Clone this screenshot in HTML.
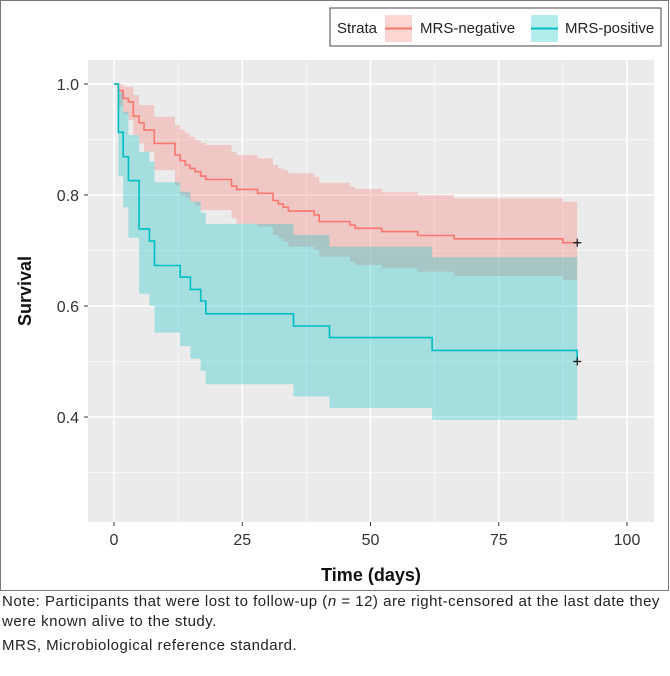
<!DOCTYPE html>
<html><head><meta charset="utf-8">
<style>
body{margin:0;background:#fff;width:670px;height:676px;overflow:hidden;font-family:"Liberation Sans",sans-serif}
#note{position:absolute;left:2px;top:592px;font-size:15px;letter-spacing:0.5px;color:#222;line-height:20px;white-space:nowrap}
</style></head>
<body>
<svg id="chart" width="670" height="592" style="position:absolute;left:0;top:0" font-family="Liberation Sans, sans-serif">
<rect x="0.5" y="0.5" width="668" height="590" fill="#fff" stroke="#777"/>
<rect x="88" y="60" width="566" height="462" fill="#ebebeb"/>
<g id="grid"></g><g id="bands"></g><g id="lines"></g><g id="axes"></g>
<g>
<rect x="330" y="8" width="331" height="38" fill="#fff" stroke="#444"/>
<text x="337" y="33" font-size="15" fill="#222">Strata</text>
<rect x="385" y="15" width="27" height="27" fill="#F8766D" fill-opacity="0.3"/>
<line x1="385" y1="28.5" x2="412" y2="28.5" stroke="#F8766D" stroke-width="2"/>
<text x="420" y="33" font-size="15" fill="#222">MRS-negative</text>
<rect x="531" y="15" width="27" height="27" fill="#00BFC4" fill-opacity="0.3"/>
<line x1="531" y1="28.5" x2="558" y2="28.5" stroke="#00BFC4" stroke-width="2"/>
<text x="565" y="33" font-size="15" fill="#222">MRS-positive</text>
</g>
<text transform="translate(31,291) rotate(-90)" text-anchor="middle" font-size="18" font-weight="bold" fill="#111">Survival</text>
<text x="371" y="581" text-anchor="middle" font-size="18" font-weight="bold" fill="#111">Time (days)</text>
</svg>
<div id="note">Note: Participants that were lost to follow-up (<i>n</i> = 12) are right-censored at the last date they<br>were known alive to the study.<div style="margin-top:4px">MRS, Microbiological reference standard.</div></div>
<script>
const xTicks=[0,25,50,75,100];
const yTicks=[0.4,0.6,0.8,1.0];
const xMinor=[12.5,37.5,62.5,87.5];
const yMinor=[0.3,0.5,0.7,0.9];
const negTimes=[0,0.84,1.8,2.8,3.77,4.87,5.85,7.86,11.9,12.9,13.9,14.8,15.8,16.9,17.9,22.9,23.9,28,31,32,33,34,39,40,46,47,52.2,59.2,66.3,87.5];
const negSurv=[1,0.988,0.974,0.968,0.942,0.930,0.917,0.893,0.872,0.862,0.854,0.848,0.842,0.834,0.828,0.816,0.810,0.803,0.790,0.784,0.778,0.771,0.764,0.752,0.746,0.740,0.734,0.727,0.721,0.714];
const negUpper=[1,1,0.995,0.995,0.98,0.962,0.962,0.941,0.926,0.917,0.911,0.905,0.899,0.894,0.89,0.878,0.872,0.866,0.854,0.848,0.845,0.839,0.833,0.822,0.815,0.811,0.805,0.800,0.794,0.788];
const negLower=[1,0.96,0.945,0.935,0.908,0.893,0.878,0.845,0.817,0.799,0.795,0.787,0.781,0.773,0.773,0.758,0.748,0.743,0.728,0.722,0.716,0.707,0.701,0.689,0.68,0.674,0.668,0.662,0.654,0.647];
const posTimes=[0,0.85,1.8,2.8,4.9,6.9,7.9,12.9,14.9,16.9,17.9,35,42,62];
const posSurv=[1,0.913,0.869,0.826,0.739,0.717,0.673,0.652,0.630,0.609,0.586,0.564,0.543,0.520];
const posUpper=[1,0.985,0.95,0.908,0.878,0.86,0.823,0.806,0.788,0.768,0.748,0.728,0.707,0.688];
const posLower=[1,0.834,0.778,0.723,0.622,0.6,0.552,0.528,0.505,0.483,0.459,0.437,0.416,0.395];
const endTime=90.3;
const negCensor=[0.714];
const posCensor=[0.500];

const X=t=>114+t*5.13;
const Y=s=>84+(1-s)*555;
const NS='http://www.w3.org/2000/svg';
function mk(tag,attrs,parent){const e=document.createElementNS(NS,tag);for(const k in attrs)e.setAttribute(k,attrs[k]);parent.appendChild(e);return e;}
const grid=document.getElementById('grid'),bands=document.getElementById('bands'),lines=document.getElementById('lines'),axes=document.getElementById('axes');
xMinor.forEach(v=>{const l=mk('line',{x1:X(v),x2:X(v),y1:60,y2:522,stroke:'#fff','stroke-width':0.6},grid);

});
yMinor.forEach(v=>{const l=mk('line',{x1:88,x2:654,y1:Y(v),y2:Y(v),stroke:'#fff','stroke-width':0.6},grid);

});
xTicks.forEach(v=>{const l=mk('line',{x1:X(v),x2:X(v),y1:60,y2:522,stroke:'#fff','stroke-width':1.5},grid);


const tk=mk('line',{x1:X(v),x2:X(v),y1:522,y2:526,stroke:'#333','stroke-width':1},axes);


const t=mk('text',{x:X(v),y:545,'text-anchor':'middle','font-size':16,fill:'#333'},axes);t.textContent=v;

});
yTicks.forEach(v=>{const l=mk('line',{x1:88,x2:654,y1:Y(v),y2:Y(v),stroke:'#fff','stroke-width':1.5},grid);


const tk=mk('line',{x1:84,x2:88,y1:Y(v),y2:Y(v),stroke:'#333','stroke-width':1},axes);


const t=mk('text',{x:79,y:Y(v)+6,'text-anchor':'end','font-size':16,fill:'#333'},axes);t.textContent=v.toFixed(1);

});
function stepPts(times,vals){let p=[];for(let i=0;i<times.length;i++){const t2=i+1<times.length?times[i+1]:endTime;p.push([X(times[i]),Y(vals[i])],[X(t2),Y(vals[i])]);}return p;}
function band(times,up,lo,color,name){const a=stepPts(times,up),b=stepPts(times,lo).reverse();
const d='M'+a.concat(b).map(p=>p[0].toFixed(1)+','+p[1].toFixed(1)).join('L')+'Z';
const e=mk('path',{d:d,fill:color,'fill-opacity':0.3},bands);

}
function line(times,vals,censor,color,name){let p=stepPts(times,vals);p.push([X(endTime),Y(censor[0])]);
const e=mk('path',{d:'M'+p.map(q=>q[0].toFixed(1)+','+q[1].toFixed(1)).join('L'),fill:'none',stroke:color,'stroke-width':1.6},lines);


const cx=X(endTime),cy=Y(censor[0]);
const c=mk('path',{d:`M${cx-4},${cy}H${cx+4}M${cx},${cy-4}V${cy+4}`,stroke:'#111','stroke-width':1.2},lines);

}
band(negTimes,negUpper,negLower,'#F8766D','ci-band-negative');
band(posTimes,posUpper,posLower,'#00BFC4','ci-band-positive');
line(negTimes,negSurv,negCensor,'#F8766D','survival-line-negative');
line(posTimes,posSurv,posCensor,'#00BFC4','survival-line-positive');
</script>
</body></html>
